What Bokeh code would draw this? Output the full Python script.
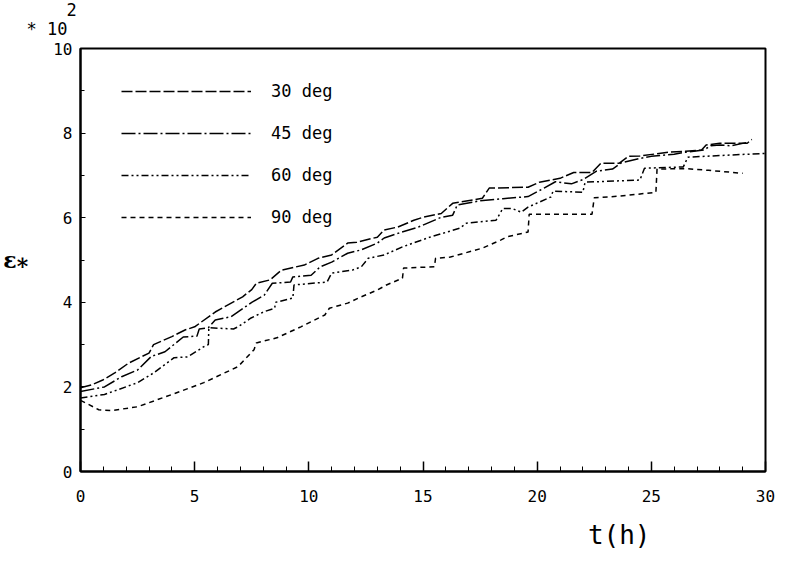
from bokeh.plotting import figure
from bokeh.models import (Range1d, SingleIntervalTicker, Legend, LegendItem, Title)
from bokeh.embed import file_html
from bokeh.resources import INLINE

# ---- data ----
t30 = [0, 0.5, 1.0, 1.5, 2.1, 3.0, 3.2, 4.0, 4.6, 5.0, 5.9, 6.5, 7.1, 7.5, 7.7, 8.3,
       8.8, 9.8, 10.4, 11.0, 11.7, 12.1, 13.0, 13.3, 13.9, 14.6, 15.0, 15.8, 16.3,
       17.6, 17.9, 19.6, 20.1, 21.0, 21.6, 22.4, 22.8, 23.6, 24.0, 24.5, 25.8, 26.5,
       27.2, 27.4, 28.0, 29.2, 29.4]
v30 = [1.98, 2.05, 2.17, 2.33, 2.56, 2.8, 3.0, 3.19, 3.35, 3.42, 3.77, 3.95, 4.13,
       4.3, 4.45, 4.53, 4.76, 4.88, 5.04, 5.12, 5.4, 5.42, 5.54, 5.71, 5.78, 5.94,
       6.01, 6.1, 6.34, 6.46, 6.7, 6.72, 6.84, 6.93, 7.07, 7.07, 7.29, 7.29, 7.45,
       7.46, 7.55, 7.57, 7.6, 7.72, 7.76, 7.76, 7.85]

t45 = [0, 1.05, 1.8, 2.5, 3.1, 3.7, 4.5, 5.1, 5.2, 5.6, 5.9, 6.6, 7.5, 8.05, 8.4,
       9.2, 9.3, 10.1, 10.5, 11.0, 11.7, 12.3, 13.0, 13.3, 13.9, 14.8, 15.8, 16.3,
       16.5, 17.5, 18.5, 19.6, 20.3, 20.8, 21.5, 22.0, 22.6, 23.3, 23.7, 24.5, 25.0,
       26.0, 26.5, 27.3, 27.6, 28.0, 28.5, 29.2]
v45 = [1.89, 2.0, 2.24, 2.4, 2.72, 2.83, 3.18, 3.2, 3.37, 3.4, 3.58, 3.66, 4.0, 4.17,
       4.45, 4.48, 4.6, 4.64, 4.84, 4.95, 5.16, 5.24, 5.4, 5.52, 5.63, 5.78, 6.01,
       6.06, 6.3, 6.4, 6.45, 6.5, 6.7, 6.85, 6.8, 6.9, 7.1, 7.15, 7.3, 7.4, 7.45,
       7.5, 7.55, 7.6, 7.7, 7.72, 7.7, 7.78]

t60 = [0, 1.05, 2.5, 3.2, 4.1, 4.7, 5.4, 5.6, 5.62, 6.7, 6.9, 7.47, 8.05, 8.5, 8.55,
       9.3, 9.35, 10.8, 11.0, 11.9, 12.3, 12.6, 13.3, 14.1, 15.3, 16.6, 16.9, 18.2,
       18.5, 18.9, 19.3, 19.6, 20.6, 20.7, 22.0, 22.1, 24.5, 24.7, 26.4, 26.6, 28.0,
       30.0]
v60 = [1.74, 1.82, 2.1, 2.33, 2.69, 2.71, 2.95, 3.0, 3.4, 3.37, 3.42, 3.63, 3.78,
       3.86, 4.0, 4.1, 4.41, 4.48, 4.69, 4.76, 4.84, 5.04, 5.12, 5.31, 5.54, 5.75,
       5.87, 5.94, 6.22, 6.22, 6.13, 6.25, 6.49, 6.63, 6.6, 6.84, 6.89, 7.17, 7.2,
       7.43, 7.47, 7.52]

t90 = [0, 0.3, 0.8, 1.35, 2.5, 4.0, 5.4, 6.9, 7.6, 7.7, 8.6, 9.65, 10.7, 10.9, 11.7,
       12.3, 13.0, 13.4, 14.1, 14.15, 15.5, 15.55, 16.2, 17.6, 18.4, 18.7, 19.6,
       19.65, 22.4, 22.5, 23.6, 25.2, 25.25, 26.5, 27.5, 29.0]
v90 = [1.68, 1.6, 1.46, 1.44, 1.53, 1.82, 2.1, 2.48, 2.88, 3.04, 3.16, 3.42, 3.7,
       3.86, 3.98, 4.13, 4.29, 4.41, 4.57, 4.81, 4.84, 5.04, 5.07, 5.28, 5.47, 5.55,
       5.66, 6.08, 6.08, 6.47, 6.51, 6.6, 7.15, 7.16, 7.12, 7.05]

labels = ["30 deg", "45 deg", "60 deg", "90 deg"]
dashes = ["11 3", "14 3 2 3", "7 3 2 3 2 3", "5 4"]

FONT = "DejaVu Sans Mono"

p = figure(width=795, height=562, x_range=Range1d(0, 30), y_range=Range1d(0, 10),
           output_backend="svg", toolbar_location=None,
           min_border_left=79, min_border_right=30, min_border_top=48,
           min_border_bottom=90)
p.xgrid.visible = False
p.ygrid.visible = False
p.outline_line_color = "black"
p.outline_line_width = 2

# x axis
p.xaxis.ticker = SingleIntervalTicker(interval=5, num_minor_ticks=5)
p.xaxis.axis_line_width = 2
p.xaxis.major_tick_in = 10
p.xaxis.major_tick_out = 0
p.xaxis.minor_tick_in = 5
p.xaxis.minor_tick_out = 0
p.xaxis.major_tick_line_width = 1.5
p.xaxis.major_label_standoff = 18
p.xaxis.major_label_text_font = FONT
p.xaxis.major_label_text_font_size = "16px"
p.xaxis.major_label_text_color = "black"

# y axis
p.yaxis.ticker = SingleIntervalTicker(interval=2, num_minor_ticks=2)
p.yaxis.axis_line_width = 2
p.yaxis.major_tick_in = 5
p.yaxis.major_tick_out = 0
p.yaxis.minor_tick_in = 4
p.yaxis.minor_tick_out = 0
p.yaxis.major_label_standoff = 8
p.yaxis.major_label_text_font = FONT
p.yaxis.major_label_text_font_size = "16px"
p.yaxis.major_label_text_color = "black"
p.yaxis.axis_label = "ε⁎"
p.yaxis.axis_label_orientation = "horizontal"
p.yaxis.axis_label_text_font = "DejaVu Serif"
p.yaxis.axis_label_text_font_style = "bold"
p.yaxis.axis_label_text_font_size = "22px"
p.yaxis.axis_label_text_color = "black"
p.yaxis.axis_label_standoff = 22

renderers = []
for xs, ys, d in zip([t30, t45, t60, t90], [v30, v45, v60, v90], dashes):
    r = p.line(xs, ys, line_color="black", line_width=1.5, line_dash=d)
    renderers.append(r)

legend = Legend(items=[LegendItem(label=l, renderers=[r]) for l, r in zip(labels, renderers)],
                location=(41, 244), orientation="vertical",
                glyph_width=130, glyph_height=20, label_height=20, spacing=22,
                label_standoff=20, padding=0, margin=0,
                border_line_color=None, background_fill_alpha=0,
                label_text_font=FONT, label_text_font_size="17px",
                label_text_color="black")
p.add_layout(legend)

# "* 10^2" scale note above the y axis
p.add_layout(Title(text="* 10", align="left", offset=-54, standoff=20,
                   text_font=FONT, text_font_size="17px",
                   text_font_style="normal", text_color="black"), "above")
p.add_layout(Title(text="2", align="left", offset=-14, standoff=-18,
                   text_font=FONT, text_font_size="17px",
                   text_font_style="normal", text_color="black"), "above")

# x axis caption, right of centre
p.add_layout(Title(text="t(h)", align="right", offset=115, standoff=26,
                   text_font=FONT, text_font_size="26px",
                   text_font_style="normal", text_color="black"), "below")

open("out.html", "w").write(file_html(p, INLINE))
